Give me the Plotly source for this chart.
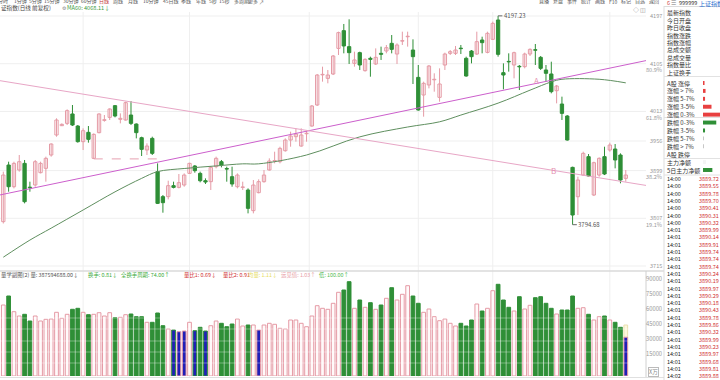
import plotly.graph_objects as go

W, H = 720, 380
def px(x): return x / W
def py(y): return 1 - y / H

FONT = "Noto Sans CJK SC, Noto Sans, sans-serif"

# ---------------- data ----------------
opens = [3800.5, 3909.7, 3867.9, 3900.1, 3912.9, 3867.0, 3871.2, 3894.9, 3903.3, 3929.0,
         3967.6, 3985.5, 3990.0, 4008.1, 3984.9, 3954.7, 3972.7, 3922.6, 3972.1, 3995.8,
         4001.6, 4024.1, 3997.8, 3996.5, 4006.1, 3988.7, 3962.4, 3938.6, 3961.1, 3896.9,
         3848.7, 3848.7, 3869.9, 3866.6, 3871.2, 3893.6, 3907.8, 3893.6, 3879.5, 3877.6,
         3906.5, 3916.1, 3903.0, 3887.2, 3867.9, 3866.5, 3861.5, 3821.7, 3856.4, 3877.6,
         3900.1, 3917.4, 3916.1, 3937.3, 3957.9, 3964.3, 3946.3, 3970.0, 3984.9, 4025.4,
         4083.5, 4076.8, 4085.2, 4134.6, 4168.7, 4137.9, 4105.7, 4126.3, 4091.6, 4115.4,
         4104.5, 4125.0, 4129.5, 4144.3, 4123.7, 4148.5, 4157.0, 4131.4, 4078.7, 4044.7,
         4064.0, 4074.0, 4040.2, 4102.5, 4125.0, 4125.0, 4134.8, 4115.4, 4129.5, 4123.7,
         4150.7, 4126.9, 4152.0, 4189.3, 4087.7, 4109.5, 4102.5, 4099.8, 4099.3, 4123.7,
         4131.8, 4117.3, 4092.9, 4085.2, 4053.0, 4027.3, 4004.2, 3905.2, 3848.6, 3890.4,
         3925.8, 3851.9, 3890.4, 3925.8, 3938.6, 3940.6, 3929.0, 3884.0]
highs = [3896.9, 3916.1, 3916.1, 3929.0, 3919.4, 3877.6, 3919.4, 3916.1, 3925.8, 3951.5,
         3999.7, 3990.0, 4017.0, 4025.4, 3986.8, 3980.4, 3984.9, 3970.8, 4009.3, 4006.1,
         4019.0, 4025.4, 4009.3, 4031.8, 4033.1, 3990.0, 3964.3, 3951.5, 3964.3, 3912.9,
         3851.9, 3879.5, 3877.6, 3892.4, 3893.6, 3914.2, 3909.7, 3896.9, 3884.0, 3907.8,
         3925.8, 3919.4, 3906.5, 3906.5, 3893.6, 3877.6, 3864.7, 3880.8, 3882.1, 3900.1,
         3922.6, 3935.4, 3945.0, 3961.1, 3974.0, 3980.4, 3980.4, 3975.9, 4025.4, 4085.2,
         4099.3, 4092.9, 4121.8, 4166.8, 4181.6, 4190.6, 4128.2, 4128.2, 4115.4, 4118.6,
         4134.6, 4137.9, 4141.1, 4160.3, 4144.3, 4166.8, 4166.8, 4152.0, 4102.5, 4070.4,
         4102.5, 4086.5, 4096.1, 4126.3, 4131.4, 4139.2, 4141.1, 4118.6, 4131.4, 4166.8,
         4157.1, 4166.8, 4186.1, 4197.23, 4105.7, 4125.0, 4128.2, 4102.5, 4126.3, 4134.6,
         4143.0, 4119.9, 4102.5, 4108.9, 4064.0, 4041.5, 4006.1, 3906.5, 3887.2, 3935.4,
         3930.9, 3916.1, 3924.5, 3945.0, 3952.8, 3950.2, 3932.2, 3900.1]
lows = [3797.0, 3858.3, 3864.7, 3896.9, 3835.8, 3858.3, 3867.9, 3893.6, 3877.6, 3925.8,
        3964.3, 3984.9, 3986.8, 3984.9, 3952.8, 3938.6, 3952.8, 3921.5, 3970.8, 3993.3,
        3996.5, 4001.6, 3990.0, 3995.2, 3986.8, 3961.1, 3927.1, 3929.0, 3929.0, 3834.5,
        3817.8, 3843.5, 3864.7, 3864.7, 3867.9, 3892.4, 3894.9, 3876.3, 3873.1, 3861.5,
        3903.3, 3905.2, 3877.6, 3867.9, 3864.7, 3861.5, 3816.5, 3816.5, 3855.1, 3875.7,
        3898.8, 3912.9, 3912.9, 3935.4, 3945.0, 3954.7, 3945.0, 3954.7, 3983.6, 4023.5,
        4070.4, 4067.2, 4083.2, 4121.8, 4125.0, 4104.5, 4099.3, 4092.9, 4089.7, 4080.0,
        4102.5, 4112.2, 4125.0, 4125.0, 4104.5, 4141.1, 4137.9, 4065.9, 4014.5, 4002.9,
        4057.5, 4051.1, 4031.8, 4092.9, 4121.8, 4121.8, 4123.7, 4080.0, 4105.7, 4121.8,
        4125.0, 4125.0, 4150.7, 4118.6, 4055.6, 4089.7, 4076.8, 4054.3, 4096.1, 4119.9,
        4102.5, 4092.9, 4070.4, 4047.9, 4028.6, 3996.5, 3956.6, 3794.68, 3813.3, 3888.5,
        3887.2, 3849.9, 3887.2, 3890.4, 3935.4, 3903.3, 3874.4, 3877.6]
closes = [3890.4, 3867.9, 3912.9, 3916.1, 3839.0, 3866.0, 3916.1, 3912.9, 3922.6, 3950.2,
          3996.5, 3988.1, 4014.5, 3986.8, 3954.7, 3975.9, 3959.2, 3968.8, 4008.1, 3997.1,
          4017.7, 4004.2, 3999.7, 4029.9, 3990.0, 3972.1, 3939.9, 3946.3, 3932.2, 3835.8,
          3837.1, 3869.9, 3866.6, 3875.7, 3890.4, 3912.9, 3898.8, 3879.5, 3876.9, 3905.2,
          3922.6, 3909.7, 3901.8, 3873.1, 3890.4, 3867.5, 3826.2, 3871.1, 3877.6, 3890.4,
          3917.4, 3918.2, 3941.8, 3957.9, 3965.6, 3969.5, 3967.6, 3971.0, 4023.5, 4083.2,
          4084.5, 4083.2, 4119.9, 4164.9, 4139.2, 4126.3, 4112.2, 4102.5, 4113.4, 4113.4,
          4117.3, 4123.1, 4135.9, 4132.7, 4141.1, 4149.5, 4157.8, 4118.6, 4015.8, 4067.2,
          4100.6, 4075.0, 4065.9, 4123.7, 4128.2, 4131.4, 4134.0, 4081.3, 4118.6, 4147.5,
          4145.6, 4163.6, 4182.8, 4123.1, 4083.2, 4108.5, 4126.3, 4099.0, 4123.7, 4132.7,
          4131.0, 4096.1, 4086.5, 4051.1, 4062.0, 4009.3, 3957.9, 3813.3, 3880.8, 3932.2,
          3888.5, 3914.2, 3922.6, 3892.4, 3948.3, 3919.4, 3880.8, 3890.4]
volumes = [71000, 80000, 64300, 60000, 61700, 55000, 60000, 55000, 56700, 57000,
           63700, 57700, 61700, 66700, 67700, 63700, 61300, 61700, 63300, 60000,
           63300, 58300, 58700, 61300, 62000, 59300, 59300, 53700, 53700, 63000,
           50300, 47000, 46000, 44300, 45000, 53700, 45300, 48700, 45000, 50300,
           55000, 52700, 49300, 52000, 57000, 50000, 51000, 51000, 46000, 51000,
           52700, 51700, 47700, 47000, 56000, 56000, 52700, 49300, 60000, 70300,
           67700, 66700, 72700, 83700, 86000, 94300, 67700, 76000, 68700, 73300,
           66700, 71000, 77700, 88300, 76000, 81700, 90300, 80000, 72700, 63700,
           67000, 59300, 55300, 57000, 52700, 50000, 52700, 50000, 56000, 72000,
           65000, 67700, 85300, 91700, 76000, 68700, 65000, 79300, 67000, 70700,
           78300, 79300, 72700, 67700, 62000, 66000, 66000, 80000, 67700, 68300,
           61700, 56000, 59300, 60000, 56000, 53700, 48700, 38759]
low_vol_days = [32, 33, 34, 36, 38, 48, 117]
projected_last_volume = 51000

ma60_idx = [0, 5, 9, 15, 21, 26, 29, 34, 40, 45, 48, 57, 67, 76, 82, 86, 93, 99, 103, 105, 112, 117]
ma60_val = [3732, 3765, 3788, 3823, 3858, 3884, 3897, 3903, 3908, 3912, 3912, 3929, 3964, 3983,
            3993, 4006, 4029, 4054, 4070, 4075, 4075, 4068.11]

trend_up_idx = [-0.62, 120.8]
trend_up_val = [3852.0, 4111.0]
trend_dn_idx = [-0.62, 120.8]
trend_dn_val = [4072.3, 3870.4]

fib_levels = [4197, 4105, 4013, 3956, 3899, 3807, 3715]
fib_pcts = ["", "80.9%", "61.8%", "", "38.2%", "19.1%", ""]
vol_ticks = [90000, 75000, 60000, 45000, 30000, 15000]
month_breaks = [15, 35, 57.5, 78, 92, 114]

breadth_labels = ["A股 涨停", "涨幅 > 7%", "涨幅 5-7%", "涨幅 3-5%", "涨幅 0-3%",
                  "跌幅 0-3%", "跌幅 3-5%", "跌幅 5-7%", "跌幅 > 7%", "A股 跌停",
                  "主力净额", "5日主力净额"]
breadth_vals = [9, 15, 12, 50, 120, 78, 12, 5, 5, 0, 18, 55]
breadth_cols = ["#e84040", "#e84040", "#e84040", "#e84040", "#e84040",
                "#2f8f37", "#2f8f37", "#bdbdbd", "#bdbdbd", "#bdbdbd", "#f4f4f4", "#2f8f37"]

info_labels = ["最新指数", "今日开盘", "昨日收盘", "指数涨跌", "指数涨幅",
               "总成交额", "总成交量", "指数量比", "上证换手"]
tick_times = ["14:00"] * 7 + ["14:01"] * 20 + ["14:02"]
tick_prices = ["3889.72", "3889.55", "3889.78", "3889.70", "3890.41", "3890.31", "3890.32",
               "3889.99", "3890.14", "3889.91", "3889.74", "3889.74", "3889.74", "3890.24",
               "3890.19", "3889.97", "3890.29", "3890.18", "3890.43", "3889.78", "3889.86",
               "3890.32", "3889.99", "3890.23", "3889.97", "3889.68", "3889.81", "3889.88"]

toolbar = ["分时", "1分钟", "5分钟", "15分钟", "30分钟", "60分钟", "日线", "周线", "月线",
           "10分钟", "45日线", "季线", "年线", "5秒", "15秒", "多周期", "更多", "↗"]
toolbar_x = [-3, 13, 28, 43, 62, 80, 98, 112, 127, 142, 162, 180, 195, 208, 218, 233, 247, 258]
toolbar_r = ["直播", "复盘", "事件", "统计", "画线", "F10", "标记", "自选", "返回"]
toolbar_r_x = [538, 552, 566, 580, 594, 608, 620, 634, 648]

# ---------------- colours ----------------
UP = "#e59aa5"
DN = "#2f8f37"
BLUE = "#1f1fb8"

N = len(closes)
idx = list(range(N))
up_i = [i for i in idx if closes[i] >= opens[i]]
dn_i = [i for i in idx if closes[i] < opens[i]]

fig = go.Figure()

def wicks(sel):
    xs, ys = [], []
    for i in sel:
        xs += [i, i, None]
        ys += [lows[i], highs[i], None]
    return xs, ys

for sel, col in ((up_i, UP), (dn_i, DN)):
    xs, ys = wicks(sel)
    fig.add_trace(go.Scatter(x=xs, y=ys, mode="lines", line=dict(color=col, width=1),
                             hoverinfo="skip"))

MINH = 1.0
fig.add_trace(go.Bar(x=up_i, base=[opens[i] for i in up_i],
                     y=[max(closes[i] - opens[i], MINH) for i in up_i], width=0.62,
                     marker=dict(color="white", line=dict(color=UP, width=1))))
fig.add_trace(go.Bar(x=dn_i, base=[closes[i] for i in dn_i],
                     y=[max(opens[i] - closes[i], MINH) for i in dn_i], width=0.62,
                     marker=dict(color=DN, line=dict(color=DN, width=1))))

# MA60 and trend lines
fig.add_trace(go.Scatter(x=ma60_idx, y=ma60_val, mode="lines",
                         line=dict(color="#5f8f5f", width=1), line_shape="spline"))
fig.add_trace(go.Scatter(x=trend_up_idx, y=trend_up_val, mode="lines",
                         line=dict(color="#cc5fcc", width=1)))
fig.add_trace(go.Scatter(x=trend_dn_idx, y=trend_dn_val, mode="lines",
                         line=dict(color="#e8a6c6", width=1)))

# volume
vol_fill, vol_line = [], []
for i in idx:
    up = closes[i] >= opens[i]
    vol_line.append(UP if up else DN)
    if i in low_vol_days:
        vol_fill.append(BLUE)
    else:
        vol_fill.append("#fffafa" if up else DN)
fig.add_trace(go.Bar(x=[N - 1], y=[projected_last_volume], width=0.7, xaxis="x2", yaxis="y2",
                     marker=dict(color="#fdf7dc", line=dict(color="#eadfb0", width=1))))
fig.add_trace(go.Bar(x=idx, y=volumes, width=0.7, xaxis="x2", yaxis="y2",
                     marker=dict(color=vol_fill, line=dict(color=vol_line, width=1))))

# breadth side bars
fig.add_trace(go.Bar(x=breadth_vals, y=breadth_labels, orientation="h", width=0.5,
                     xaxis="x3", yaxis="y3",
                     marker=dict(color=breadth_cols, line=dict(color=breadth_cols, width=0))))

XR = [-0.62, 120.8]
fig.update_layout(
    width=W, height=H, margin=dict(l=0, r=0, t=0, b=0, autoexpand=False),
    paper_bgcolor="white", plot_bgcolor="white", showlegend=False,
    barmode="overlay", hovermode=False, font=dict(family=FONT, size=6, color="#333"),
    xaxis=dict(domain=[0, px(646)], range=XR, visible=False, anchor="y"),
    yaxis=dict(domain=[py(271), py(12)], range=[3705.4, 4204.7], visible=False, anchor="x"),
    xaxis2=dict(domain=[0, px(646)], range=XR, visible=False, anchor="y2"),
    yaxis2=dict(domain=[py(376), py(280)], range=[0, 96000], visible=False, anchor="x2"),
    xaxis3=dict(domain=[px(703), 1.0], range=[0, 100], visible=False, anchor="y3"),
    yaxis3=dict(domain=[py(173.95), py(79.05)], type="category", categoryarray=breadth_labels,
                range=[11.5, -0.5], visible=False, anchor="x3"),
)

shapes = []
GRID = "#efefef"
for lv in fib_levels:
    shapes.append(dict(type="line", xref="paper", yref="y", x0=0, x1=px(646), y0=lv, y1=lv,
                       line=dict(color=GRID, width=1), layer="below"))
for b in month_breaks:
    shapes.append(dict(type="line", xref="x", yref="paper", x0=b, x1=b, y0=py(377), y1=py(12),
                       line=dict(color=GRID, width=1), layer="below"))
# dashed support line from candle 18's low
shapes.append(dict(type="line", xref="x", yref="y", x0=17, x1=30, y0=lows[17], y1=lows[17],
                   line=dict(color="#e6a0b0", width=1, dash="dash")))
# stripes over volume bars
for yy in (318, 329, 341, 352, 363):
    shapes.append(dict(type="line", xref="paper", yref="paper", x0=0, x1=px(646), y0=py(yy), y1=py(yy),
                       line=dict(color="rgba(255,255,255,0.35)", width=1), layer="above"))
# frame lines
frame = [(0, 271, 664, 271, "#dadada", 1.5), (0, 377.5, 664, 377.5, "#e0e0e0", 1),
         (646, 271, 646, 377, "#d0d0d0", 1), (664, 6, 664, 380, "#dddddd", 1),
         (664, 6.5, 720, 6.5, "#dddddd", 1), (664, 76.5, 720, 76.5, "#e2e2e2", 1),
         (664, 117.5, 720, 117.5, "#e2e2e2", 1), (664, 158.5, 720, 158.5, "#e2e2e2", 1),
         (664, 175, 720, 175, "#e2e2e2", 1)]
for x0, y0, x1, y1, c, w in frame:
    shapes.append(dict(type="line", xref="paper", yref="paper", x0=px(x0), x1=px(x1),
                       y0=py(y0), y1=py(y1), line=dict(color=c, width=w)))

# hi / lo markers
hi_i = highs.index(max(highs))
lo_i = lows.index(min(lows))
shapes.append(dict(type="line", xref="x", yref="y", x0=hi_i, x1=hi_i + 0.8, y0=highs[hi_i], y1=highs[hi_i],
                   line=dict(color="#666", width=1)))
shapes.append(dict(type="line", xref="x", yref="y", x0=lo_i, x1=lo_i + 0.8, y0=lows[lo_i], y1=lows[lo_i],
                   line=dict(color="#666", width=1)))
fig.update_layout(shapes=shapes)

ann = []
def T(x, y, text, size=6, color="#333", xanchor="left", **kw):
    d = dict(x=px(x), y=py(y), xref="paper", yref="paper", text=text, showarrow=False,
             xanchor=xanchor, yanchor="middle", borderpad=0,
             font=dict(size=size, color=color, family=FONT))
    d.update(kw)
    ann.append(d)

ann.append(dict(x=hi_i + 0.9, y=highs[hi_i], xref="x", yref="y", text=f"{highs[hi_i]:.2f}",
                showarrow=False, xanchor="left", yanchor="middle", borderpad=0,
                font=dict(size=6, color="#555")))
ann.append(dict(x=lo_i + 0.9, y=lows[lo_i], xref="x", yref="y", text=f"{lows[lo_i]:.2f}",
                showarrow=False, xanchor="left", yanchor="middle", borderpad=0,
                font=dict(size=6, color="#555")))
ann.append(dict(x=100.3, y=4073.6, xref="x", yref="y", text="A", showarrow=False, borderpad=0,
                font=dict(size=8, color="#e58fb0")))
ann.append(dict(x=103.5, y=3898.2, xref="x", yref="y", text="B", showarrow=False, borderpad=0,
                font=dict(size=8, color="#e58fb0")))

for lv, pc in zip(fib_levels, fib_pcts):
    ann.append(dict(x=px(663), y=lv, xref="paper", yref="y", text=str(lv), showarrow=False,
                    xanchor="right", yanchor="middle", borderpad=0,
                    font=dict(size=5.6, color="#999")))
    if pc:
        ann.append(dict(x=px(663), y=lv, xref="paper", yref="y", text=pc, showarrow=False,
                        xanchor="right", yanchor="middle", yshift=-6.5, borderpad=0,
                        font=dict(size=5.6, color="#999")))
for v in vol_ticks:
    ann.append(dict(x=px(663), y=v, xref="paper", yref="y2", text=str(v), showarrow=False,
                    xanchor="right", yanchor="middle", yshift=8, borderpad=0,
                    font=dict(size=5.8, color="#999")))
T(653, 372, "X万", size=5.6, color="#888", xanchor="center", bordercolor="#bbb", borderwidth=1)

# toolbar (top edge cut like the screenshot)
for lab, x in zip(toolbar, toolbar_x):
    T(x, 1.0, lab, size=5, color="#c03030" if lab == "日线" else "#555")
for lab, x in zip(toolbar_r, toolbar_r_x):
    T(x, 1.0, lab, size=5, color="#555")
T(666, 3.5, "6", size=5.5, color="#d04040")
T(670, 3.5, "☰", size=5.5, color="#777")
T(678, 3.5, "999999", size=5.5, color="#333")
T(698, 3.5, "上证指数", size=6, color="#2a6fd0")
T(632, 9.5, "◇ ◫", size=6, color="#888")

# title row
T(0, 7.5, "证指数(日线 前复权)", size=5.6, color="#444")
T(61, 7.5, "⚙", size=5, color="#888")
T(66, 7.5, "MA60: 4068.11↓", size=5.6, color="#3a9a3a")

# volume header
vol_head = [("量学副图(2) 量: 387594688.00↓", 0, "#555"), ("换手: 0.81↓", 87, "#3aaa3a"),
            ("全换手周期: 74.00↑", 120, "#3aaa3a"), ("量比1: 0.69↓", 183, "#d03030"),
            ("量比2: 0.91", 222, "#d03030"), ("均量: 1.11↓", 247, "#e6dc60"),
            ("远见值: 1.03↑", 280, "#e8a0a8"), ("低: 100.00↑", 318, "#55bb55")]
for t, x, c in vol_head:
    T(x, 275, t, size=5.4, color=c)

# sidebar
for k, lab in enumerate(info_labels):
    T(666, 13 + k * 7.4, lab, size=6, color="#333")
for lab in breadth_labels:
    ann.append(dict(x=px(666), y=lab, xref="paper", yref="y3", text=lab, showarrow=False,
                    xanchor="left", yanchor="middle", borderpad=0,
                    font=dict(size=6, color="#333")))
for k, (t, p) in enumerate(zip(tick_times, tick_prices)):
    yy = 179 + k * 7.3
    T(666, yy, t, size=5.5, color="#222")
    T(720, yy, p, size=5.5, color="#d03030", xanchor="right")

fig.update_layout(annotations=ann)
fig.write_html("out.html", config={"displayModeBar": False, "staticPlot": True},
               post_script="document.body.style.margin='0';document.body.style.overflow='hidden';")
